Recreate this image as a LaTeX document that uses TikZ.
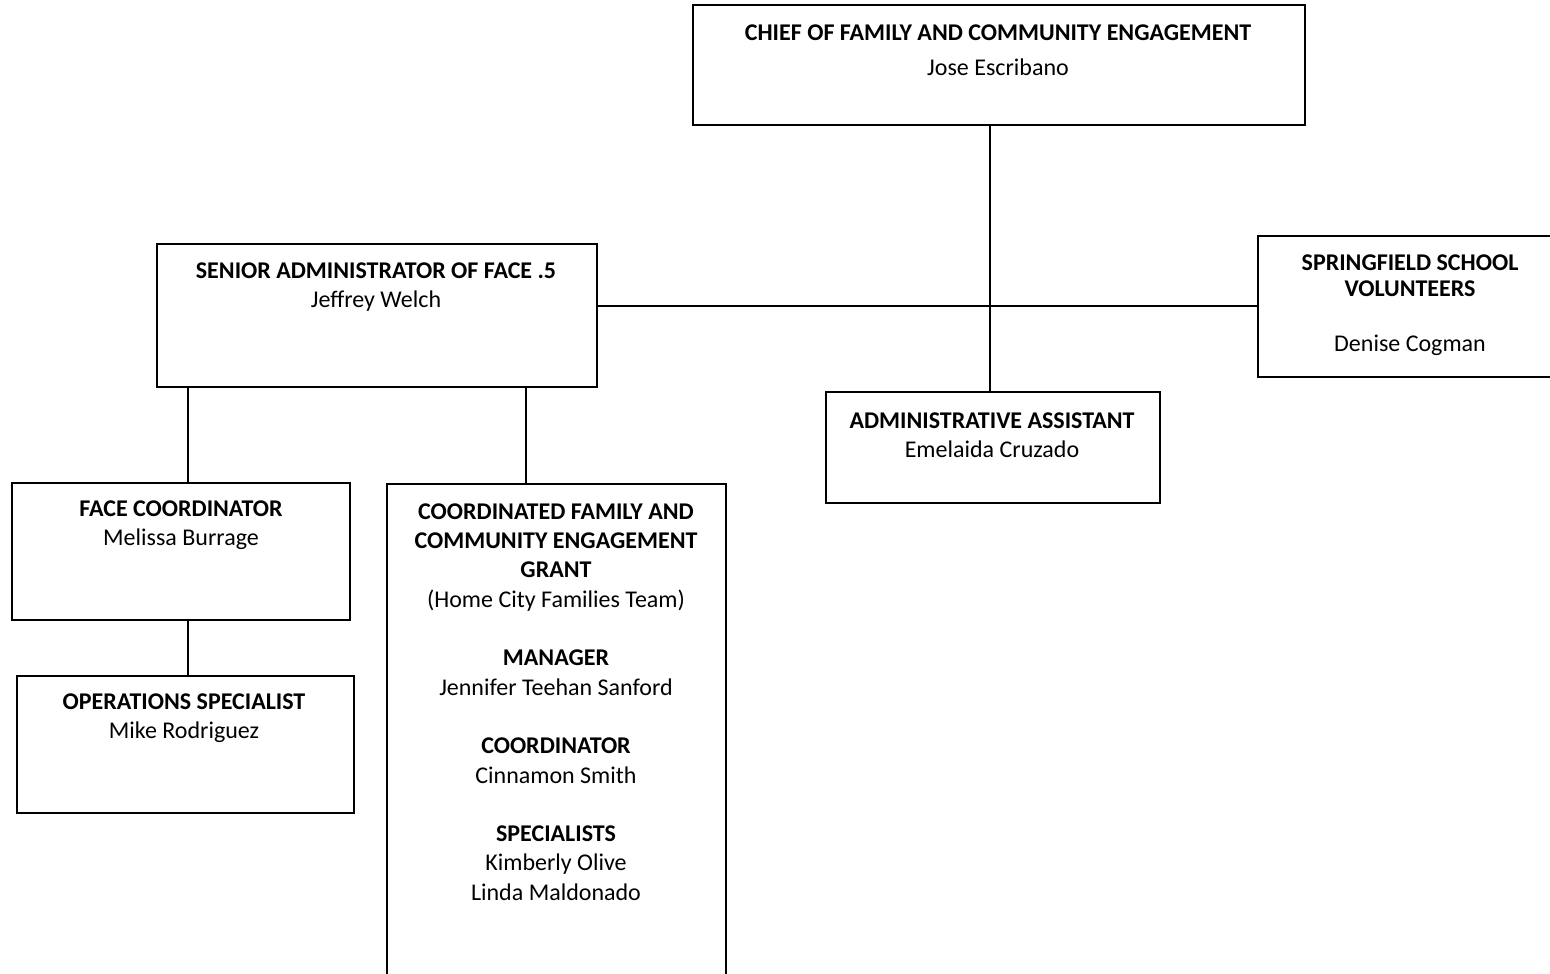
\documentclass[tikz,border=0pt]{standalone}
\usepackage{fontspec}
\setmainfont{Carlito}
\usetikzlibrary{fit}
\begin{document}
\begin{tikzpicture}[x=0.5pt,y=-0.5pt,
  box/.style={draw, line width=1pt, rectangle, inner sep=0pt},
  txt/.style={align=center, font=\fontsize{12}{14.65}\selectfont, inner sep=0pt},
  conn/.style={line width=1pt}]
\useasboundingbox (0,0) rectangle (1550,973);
\clip (0,0) rectangle (1550,973);
% boxes
\node[box, fit={(693,5) (1305,125)}] (chief) {};
\node[box, fit={(157,244) (597,387)}] (senior) {};
\node[box, fit={(1258,236) (1560,377)}] (spring) {};
\node[box, fit={(826,392) (1160,503)}] (admin) {};
\node[box, fit={(12,483) (350,620)}] (face) {};
\node[box, fit={(17,676) (354,813)}] (ops) {};
\node[box, fit={(387,484) (726,990)}] (coord) {};
% texts
\node[txt] (tchief) at (998,50) {\textbf{CHIEF OF FAMILY AND COMMUNITY ENGAGEMENT}\\[2.8pt]Jose Escribano};
\node[txt] (tsenior) at (376,287) {\textbf{SENIOR ADMINISTRATOR OF FACE .5}\\Jeffrey Welch};
\node[txt] (tspring) at (1410,305) {\textbf{SPRINGFIELD SCHOOL}\\[-1.6pt]\textbf{VOLUNTEERS}\\[12.8pt]Denise Cogman};
\node[txt] (tadmin) at (992,435) {\textbf{ADMINISTRATIVE ASSISTANT}\\Emelaida Cruzado};
\node[txt] (tface) at (181,525) {\textbf{FACE COORDINATOR}\\Melissa Burrage};
\node[txt] (tops) at (184,718) {\textbf{OPERATIONS SPECIALIST}\\Mike Rodriguez};
\node[txt] (tcoord) at (556,702) {\textbf{COORDINATED FAMILY AND}\\\textbf{COMMUNITY ENGAGEMENT}\\\textbf{GRANT}\\(Home City Families Team)\\[\baselineskip]
\textbf{MANAGER}\\Jennifer Teehan Sanford\\[\baselineskip]
\textbf{COORDINATOR}\\Cinnamon Smith\\[\baselineskip]
\textbf{SPECIALISTS}\\Kimberly Olive\\Linda Maldonado};
% connectors
\coordinate (j) at (990,306);
\coordinate (ca) at (188,0);
\coordinate (cb) at (526,0);
\draw[conn] (j |- chief.south) -- (j |- admin.north);
\draw[conn] (senior.east |- j) -- (spring.west |- j);
\draw[conn] (ca |- senior.south) -- (ca |- face.north);
\draw[conn] (ca |- face.south) -- (ca |- ops.north);
\draw[conn] (cb |- senior.south) -- (cb |- coord.north);
\end{tikzpicture}
\end{document}
